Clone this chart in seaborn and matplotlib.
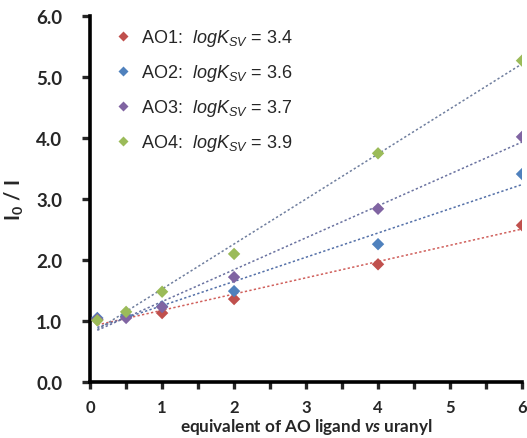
import numpy as np
import pandas as pd
import matplotlib
matplotlib.use("Agg")
import matplotlib.pyplot as plt
from matplotlib.ticker import MultipleLocator, FormatStrFormatter
import seaborn as sns

# Equivalents of AO ligand added per uranyl
equiv = [0.1, 0.5, 1, 2, 4, 6]

# Stern-Volmer ratios I0/I for each ligand
ao1 = [1.02, 1.07, 1.13, 1.36, 1.93, 2.57]
ao2 = [1.05, 1.08, 1.24, 1.49, 2.26, 3.41]
ao3 = [1.03, 1.05, 1.23, 1.72, 2.84, 4.02]
ao4 = [1.01, 1.15, 1.48, 2.10, 3.75, 5.27]

series_names = ["AO1", "AO2", "AO3", "AO4"]
log_ksv = ["3.4", "3.6", "3.7", "3.9"]
x_ticks = [0, 1, 2, 3, 4, 5, 6]

point_colors = ["#C0504D", "#4F81BD", "#8064A2", "#9BBB59"]
fit_colors = ["#D0605C", "#5470A8", "#6A72A0", "#6F7E9E"]

sns.set_style("white")
plt.rcParams["font.family"] = ["Liberation Sans", "DejaVu Sans"]
plt.rcParams["mathtext.fontset"] = "custom"
plt.rcParams["mathtext.rm"] = "Liberation Sans"
plt.rcParams["mathtext.it"] = "Liberation Sans:italic"
plt.rcParams["mathtext.bf"] = "Lato:bold"
try:
    plt.rcParams["mathtext.bfit"] = "Lato:italic:bold"
except KeyError:
    pass

df = pd.DataFrame({
    "equiv": equiv * 4,
    "ratio": ao1 + ao2 + ao3 + ao4,
    "ligand": [n for n in series_names for _ in equiv],
})

fig = plt.figure(figsize=(5.27, 4.39), dpi=100)
ax = fig.add_axes([0.171, 0.1276, 0.8195, 0.8334])

# Linear Stern-Volmer fits drawn as dotted trend lines
for name, col in zip(series_names, fit_colors):
    sub = df[df["ligand"] == name]
    sns.regplot(data=sub, x="equiv", y="ratio", ax=ax, scatter=False, ci=None,
                truncate=True,
                line_kws=dict(color=col, lw=1.1, ls=(0, (1.5, 1.5))))

sns.scatterplot(data=df, x="equiv", y="ratio", hue="ligand",
                palette=point_colors, marker="D", s=40, edgecolor="none",
                ax=ax, zorder=5, legend=True)

handles, _ = ax.get_legend_handles_labels()
labels = [f"{n}:  $\\mathit{{logK_{{SV}}\\,=\\,{k}}}$" for n, k in zip(series_names, log_ksv)]
leg = ax.legend(handles[:4], labels, loc="upper left", bbox_to_anchor=(0.01, 1.0),
                frameon=False, fontsize=13, handletextpad=0.0,
                labelspacing=0.78, borderaxespad=0.2, markerscale=0.75)

ax.set_xlim(0, 6)
ax.set_ylim(0, 6)
ax.set_xticks(x_ticks)
ax.xaxis.set_minor_locator(MultipleLocator(0.5))
ax.yaxis.set_major_locator(MultipleLocator(1.0))
ax.yaxis.set_major_formatter(FormatStrFormatter("%.1f"))

for side in ["top", "right"]:
    ax.spines[side].set_visible(False)
for side in ["left", "bottom"]:
    ax.spines[side].set_linewidth(2.6)
    ax.spines[side].set_color("black")
ax.tick_params(axis="y", which="major", direction="out", length=6, width=2.4,
               left=True, labelsize=13.5, pad=14)
ax.tick_params(axis="x", which="both", direction="out", length=5, width=2.4,
               bottom=True, labelsize=12, pad=7)
for lab in ax.get_yticklabels():
    lab.set_fontweight("bold")
    lab.set_family(["Lato", "DejaVu Sans"])
for lab in ax.get_xticklabels():
    lab.set_fontweight("bold")
    lab.set_family(["Lato", "DejaVu Sans"])

ax.set_xlabel("equivalent of AO ligand $\\mathbfit{vs}$ uranyl", fontsize=12.3,
              fontweight="bold", family=["Lato", "DejaVu Sans"], labelpad=1)
ax.set_ylabel("$\\mathbf{I_0\\ /\\ I}$", fontsize=14.5, labelpad=7)

fig.savefig("out.png", dpi=100)
